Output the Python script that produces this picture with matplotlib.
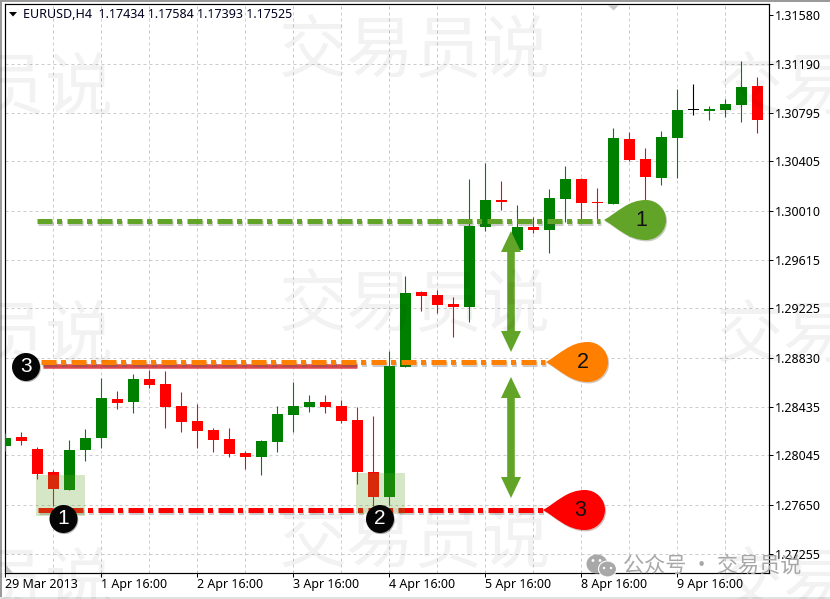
import matplotlib
matplotlib.use("Agg")
import matplotlib.pyplot as plt
import matplotlib.patheffects as pe
from matplotlib.patches import Circle, Ellipse, PathPatch, Polygon, Rectangle
from matplotlib.path import Path

plt.rcParams["font.family"] = ["Noto Sans", "Noto Sans CJK SC", "DejaVu Sans"]
plt.rcParams["lines.scale_dashes"] = False

# H4 candles
opens = [1.28121, 1.28194, 1.28097, 1.27913, 1.27768, 1.28089, 1.28185, 1.28498,
         1.28474, 1.28659, 1.28619, 1.28442, 1.28322, 1.28250, 1.28177, 1.28065,
         1.28033, 1.28153, 1.28370, 1.28434, 1.28474, 1.28442, 1.28330, 1.27913,
         1.27712, 1.28755, 1.29357, 1.29333, 1.29261, 1.29237, 1.29879, 1.30095,
         1.29694, 1.29879, 1.29854, 1.30103, 1.30264, 1.30079, 1.30063, 1.30585,
         1.30424, 1.30272, 1.30593, 1.30817, 1.30809, 1.30817, 1.30857, 1.31010]
highs = [1.28226, 1.28234, 1.28113, 1.27929, 1.28169, 1.28258, 1.28667, 1.28563,
         1.28699, 1.28731, 1.28723, 1.28555, 1.28458, 1.28266, 1.28266, 1.28081,
         1.28169, 1.28442, 1.28635, 1.28531, 1.28531, 1.28490, 1.28434, 1.28362,
         1.28884, 1.29485, 1.29365, 1.29373, 1.29317, 1.30264, 1.30392, 1.30248,
         1.30055, 1.29959, 1.30183, 1.30368, 1.30272, 1.30191, 1.30673, 1.30641,
         1.30512, 1.30649, 1.30986, 1.31026, 1.30849, 1.30906, 1.31211, 1.31082]
lows = [1.28081, 1.28129, 1.27857, 1.27640, 1.27768, 1.28001, 1.28105, 1.28418,
        1.28386, 1.28587, 1.28266, 1.28234, 1.28105, 1.28073, 1.28033, 1.27937,
        1.27889, 1.28073, 1.28234, 1.28394, 1.28386, 1.28306, 1.27816, 1.27640,
        1.27648, 1.28755, 1.29205, 1.29188, 1.28996, 1.29116, 1.29846, 1.30015,
        1.29694, 1.29830, 1.29670, 1.29919, 1.29919, 1.29919, 1.30063, 1.30408,
        1.30095, 1.30216, 1.30272, 1.30777, 1.30737, 1.30761, 1.30721, 1.30633]
closes = [1.28185, 1.28161, 1.27897, 1.27776, 1.28089, 1.28185, 1.28506, 1.28466,
          1.28659, 1.28611, 1.28434, 1.28314, 1.28242, 1.28169, 1.28057, 1.28033,
          1.28161, 1.28378, 1.28442, 1.28474, 1.28434, 1.28322, 1.27913, 1.27712,
          1.28763, 1.29349, 1.29325, 1.29253, 1.29237, 1.29887, 1.30095, 1.30079,
          1.29879, 1.29854, 1.30111, 1.30264, 1.30071, 1.30071, 1.30593, 1.30416,
          1.30280, 1.30601, 1.30817, 1.30817, 1.30825, 1.30866, 1.31002, 1.30737]

price_ticks = [1.31580, 1.31190, 1.30795, 1.30405, 1.30010, 1.29615,
               1.29225, 1.28830, 1.28435, 1.28045, 1.27650, 1.27255]
date_ticks = [0, 6, 12, 18, 24, 30, 36, 42]
date_labels = ["29 Mar 2013", "1 Apr 16:00", "2 Apr 16:00", "3 Apr 16:00",
               "4 Apr 16:00", "5 Apr 16:00", "8 Apr 16:00", "9 Apr 16:00"]

# drawn levels: price, first bar, last bar, colour
level_prices = [1.29927, 1.28795, 1.27608]
level_starts = [1.98, 2.23, 2.04]
level_ends = [37.17, 33.73, 33.73]
level_colors = ["#62a428", "#ff8000", "#ff0000"]

GREEN = "#62a428"


def px(p):
    return p * 0.72


fig = plt.figure(figsize=(8.3, 5.99), dpi=100)
ax = fig.add_axes([4.5 / 830, 1 - 573 / 599, (769 - 4.5) / 830, (573 - 4.3) / 599])
ax.set_xlim(-0.05, 47.73)
ax.set_ylim(1.27102, 1.31666)

# candles
bar_x = list(range(len(opens)))
colors = []
for o, c in zip(opens, closes):
    if c > o:
        colors.append("#008000")
    elif c < o:
        colors.append("#ff0000")
    else:
        colors.append("#000000")
ax.vlines(bar_x, lows, highs, colors=colors, linewidth=px(1.1), zorder=3)
for x, o, c, col in zip(bar_x, opens, closes, colors):
    height = max(abs(c - o), 0.00009)
    ax.bar(x, height, bottom=min(o, c), width=11 / 16, color=col, linewidth=0, zorder=4)

# grid and axes
ax.set_xticks(date_ticks)
ax.set_xticklabels(date_labels, ha="left", fontsize=9)
ax.set_xticks([t + 3 for t in date_ticks] + [45], minor=True)
ax.set_yticks(price_ticks)
ax.set_yticklabels([f"{p:.5f}" for p in price_ticks], fontsize=9)
ax.yaxis.tick_right()
ax.tick_params(axis="both", which="major", length=px(4), width=px(1), pad=1.5)
ax.tick_params(axis="x", which="minor", length=0)
ax.tick_params(axis="x", which="major", pad=1)
grid_style = dict(color="#cccccc", linewidth=px(1), linestyle=(0, (px(3), px(3))))
ax.grid(True, which="both", axis="x", **grid_style)
ax.set_axisbelow(True)
for p in price_ticks[1:]:
    ax.axhline(p, zorder=1, **grid_style)
for s in ax.spines.values():
    s.set_linewidth(px(1.2))

# level lines
dash = (0, (px(15), px(4.5), px(5), px(5.5)))
shadow = [pe.SimpleLineShadow(offset=(0.6, -1.6), shadow_color="#555555", alpha=0.3), pe.Normal()]
for price, start, end, col in zip(level_prices, level_starts, level_ends, level_colors):
    ax.plot([start, end], [price, price], color=col, linewidth=px(5), linestyle=dash,
            dash_capstyle="butt", zorder=6, path_effects=shadow)
ax.plot([2.36, 22.0], [1.28763, 1.28763], color="#d9474c", linewidth=px(4.5),
        solid_capstyle="butt", zorder=5)

# overlay in pixels for the hand drawn bits
over = fig.add_axes([0, 0, 1, 1], zorder=5)
over.set_xlim(0, 830)
over.set_ylim(599, 0)
over.axis("off")
over.patch.set_alpha(0)


def teardrop(tip_x, tip_y, color, label):
    r = 20
    cx = tip_x + 42
    k = 0.55 * r
    verts = [(tip_x, tip_y),
             (tip_x + 14, tip_y - 8), (cx - 18, tip_y - r), (cx, tip_y - r),
             (cx + k, tip_y - r), (cx + r, tip_y - k), (cx + r, tip_y),
             (cx + r, tip_y + k), (cx + k, tip_y + r), (cx, tip_y + r),
             (cx - 18, tip_y + r), (tip_x + 14, tip_y + 8), (tip_x, tip_y)]
    codes = [Path.MOVETO] + [Path.CURVE4] * 12
    over.add_patch(PathPatch(Path(verts, codes), facecolor=color, edgecolor="none", zorder=8,
                             path_effects=[pe.SimplePatchShadow(offset=(0.8, -1), alpha=0.25), pe.Normal()]))
    over.text(tip_x + 37, tip_y, label, fontsize=15.5, ha="center", va="center", color="#111111",
              family="Liberation Sans", zorder=9)


def double_arrow(x, top, bottom):
    head_w = 10
    head_h = 21
    shaft = 3.8
    pts = [(x, top), (x + head_w, top + head_h), (x + shaft, top + head_h),
           (x + shaft, bottom - head_h), (x + head_w, bottom - head_h), (x, bottom),
           (x - head_w, bottom - head_h), (x - shaft, bottom - head_h),
           (x - shaft, top + head_h), (x - head_w, top + head_h)]
    over.add_patch(Polygon(pts, closed=True, facecolor=GREEN, edgecolor="none", zorder=7))


def badge(x, y, label):
    over.add_patch(Circle((x, y), 14, facecolor="#050505", edgecolor="none", zorder=8,
                          path_effects=[pe.SimplePatchShadow(offset=(0.6, -0.8), alpha=0.3), pe.Normal()]))
    over.text(x, y, label, color="white", fontsize=15, ha="center", va="center",
              family="Liberation Sans", zorder=9)


over.add_patch(Rectangle((36, 475), 49, 41, facecolor=GREEN, alpha=0.26, edgecolor="none", zorder=2))
over.add_patch(Rectangle((356, 473), 49, 41, facecolor=GREEN, alpha=0.26, edgecolor="none", zorder=2))
teardrop(604, 220, GREEN, "1")
teardrop(546, 362, "#ff8000", "2")
teardrop(543, 510, "#ff0000", "3")
double_arrow(511, 231, 352)
double_arrow(511, 377, 498)
badge(26, 367, "3")
badge(63.5, 519, "1")
badge(380, 519, "2")

# header and the small triangles
over.add_patch(Polygon([(9, 12), (17, 12), (13, 16.5)], closed=True, facecolor="black", edgecolor="none"))
over.text(23, 14, "EURUSD,H4  1.17434 1.17584 1.17393 1.17525", fontsize=9, va="center", ha="left",
          color="#000020")
over.add_patch(Polygon([(608, 5), (619, 5), (613.5, 10.5)], closed=True, facecolor="#c8c8c8", edgecolor="none"))
over.add_patch(Polygon([(5.5, 565), (5.5, 572.5), (12.5, 572.5)], closed=True, facecolor="#c0c0c0", edgecolor="none"))

# window frame
over.add_patch(Rectangle((0, 0), 830, 1.6, facecolor="#9a9a9a", edgecolor="none"))
over.add_patch(Rectangle((0, 0), 1.6, 599, facecolor="#9a9a9a", edgecolor="none"))
over.add_patch(Rectangle((0, 597), 830, 2, facecolor="#e2e2e2", edgecolor="none"))

# watermark tiles
marks = [(415, 53), (415, 307), (415, 543), (-22, 90), (-22, 338), (-22, 585),
         (852, 90), (852, 338), (852, 585)]
for mx, my in marks:
    over.text(mx, my, "交易员说", fontsize=49, color="black", alpha=0.05, ha="center", va="center",
              family="Noto Sans CJK SC", zorder=10, clip_on=True)

# wechat footer
icon = "#a8a8a8"
over.add_patch(Ellipse((597, 564), 21, 19, facecolor=icon, edgecolor="none", zorder=11))
over.add_patch(Ellipse((607.5, 569), 18, 16, facecolor=icon, edgecolor="white", linewidth=0.8, zorder=12))
for ex, ey, er in [(593, 560.5, 1.4), (600, 560.5, 1.4), (604, 568, 1.2), (611, 568, 1.2)]:
    over.add_patch(Circle((ex, ey), er, facecolor="white", edgecolor="none", zorder=13))
over.text(623, 566, "公众号 · 交易员说", fontsize=15.2, color="#a8a8a8", ha="left", va="center",
          family="Noto Sans CJK SC", zorder=11)

fig.savefig("out.png", dpi=100)
